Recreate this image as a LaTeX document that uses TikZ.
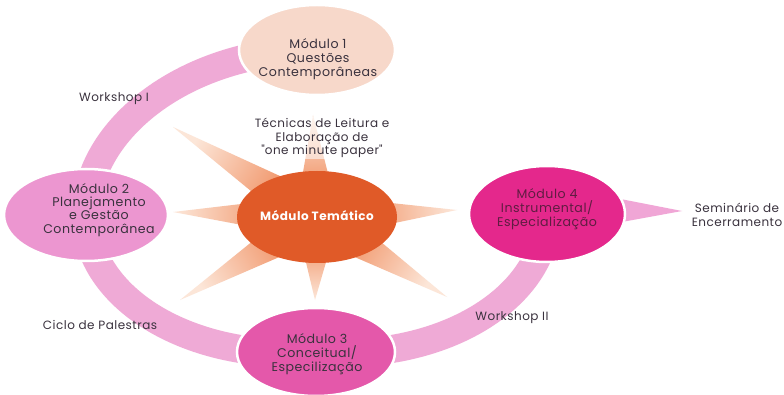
\documentclass[tikz,border=0pt]{standalone}
\usepackage{fontspec}
\setmainfont{Poppins}[LetterSpace=4]
\newfontfamily\qf{Poppins}
\newcommand{\sq}{{\qf\symbol{34}}}
\usetikzlibrary{shapes.geometric,calc}
\definecolor{txtc}{RGB}{58,50,62}
\definecolor{m1c}{RGB}{247,216,202}
\definecolor{m2c}{RGB}{236,150,208}
\definecolor{m3c}{RGB}{228,88,170}
\definecolor{m4c}{RGB}{228,40,140}
\definecolor{m4txt}{RGB}{96,28,66}
\definecolor{cenc}{RGB}{224,90,40}
\definecolor{bandc}{RGB}{239,170,214}
\definecolor{arrc}{RGB}{240,166,214}
\definecolor{raybase}{RGB}{236,116,60}
\definecolor{raytip}{RGB}{252,230,216}
\pgfdeclarelayer{bgzero}
\pgfdeclarelayer{background}
\pgfsetlayers{bgzero,background,main}
\begin{document}
\begin{tikzpicture}[x=1pt,y=-1pt,
  modell/.style={ellipse, draw=white, line width=2.5pt, inner sep=0pt},
  modtxt/.style={font=\fontsize{12.6}{14}\selectfont, text=txtc, align=center, inner sep=0pt},
  lbl/.style={font=\fontsize{12}{13.5}\selectfont, text=txtc, align=center, inner sep=0pt},
  band/.style={line width=28pt, draw=bandc},
  ray/.style={top color=raytip, bottom color=raybase}]
\useasboundingbox (0,0) rectangle (784,395);
% module ellipses
\node[modell, fill=m1c, minimum width=156pt, minimum height=90pt] (m1) at (317,50) {};
\node[modell, fill=m2c, minimum width=164pt, minimum height=92pt] (m2) at (86,215) {};
\node[modell, fill=m3c, minimum width=158pt, minimum height=88pt] (m3) at (316,352) {};
\node[modell, fill=m4c, minimum width=156pt, minimum height=96pt] (m4) at (547,214) {};
\node[ellipse, fill=cenc, inner sep=0pt, minimum width=160pt, minimum height=92pt] (mt) at (317,217) {};
% texts
\node[modtxt] at (318,59) {Módulo 1\\Questões\\Contemporâneas};
\node[modtxt, font=\fontsize{12.6}{13.3}\selectfont] at (99,210) {Módulo 2\\Planejamento\\e Gestão\\Contemporânea};
\node[modtxt] at (317,354) {Módulo 3\\Conceitual/\\Especilização};
\node[modtxt, text=m4txt] at (547,209) {Módulo 4\\Instrumental/\\Especialização};
\node[font=\fontsize{12}{13}\selectfont\bfseries, text=white, inner sep=0pt] at (317,216) {Módulo Temático};
% ray tips
\coordinate (tL) at (173,212);
\coordinate (tUL) at (173,127);
\coordinate (tT) at (313,115);
\coordinate (tLL) at (180,300);
\coordinate (tB) at (315,300);
\coordinate (tLR) at (447,297);
\coordinate (tR) at (457,210);
\coordinate (tip) at (682,211);
\node[lbl, fill=white, fill opacity=0.55, text opacity=1, inner sep=1pt] (tec) at (322,138) {Técnicas de Leitura e\\Elaboração de\\\sq one minute paper\sq};
\node[lbl] (w1) at (114,99) {Workshop I};
\node[lbl] (cp) at (100,325) {Ciclo de Palestras};
\node[lbl] (w2) at (512,318) {Workshop II};
\node[lbl] (sem) at (737,215) {Seminário de\\Encerramento};
\begin{pgfonlayer}{bgzero}
\fill[white] (0,0) rectangle (784,395);
\end{pgfonlayer}
\begin{pgfonlayer}{background}
\draw[band] (m2.center) .. controls (86,128) and (188,50) .. (m1.center);
\draw[band] (m2.center) .. controls (86,298) and (190,362) .. (m3.center);
\draw[band] (m3.center) .. controls (442,362) and (547,298) .. (m4.center);
\fill[arrc] (600,195) -- (600,226) -- (tip) -- cycle;
\foreach \t/\a in {tL/88, tUL/58, tT/2, tLL/121, tB/179, tLR/238, tR/-87} {
  \shade[ray, shading angle=\a] ($(mt.center)!22pt!90:(\t)$) -- (\t) -- ($(mt.center)!22pt!-90:(\t)$) -- cycle;
}
\end{pgfonlayer}
\end{tikzpicture}
\end{document}
